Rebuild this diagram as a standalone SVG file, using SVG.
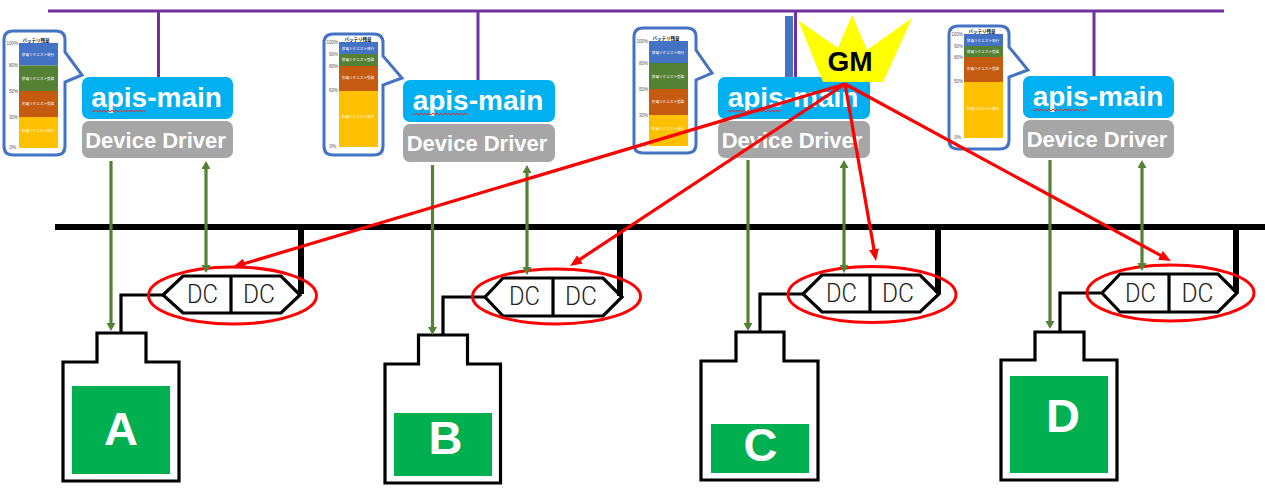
<svg xmlns="http://www.w3.org/2000/svg" width="1265" height="490" viewBox="0 0 1265 490">
<style>
text{font-family:"Liberation Sans",Arial,sans-serif}
.pur{stroke:#7030a0;stroke-width:3;fill:none}
.api{fill:#00b0f0}.dd{fill:#a6a6a6}
.t1{font-size:28px;font-weight:700;fill:#fff;text-anchor:middle}
.t2{font-size:22px;font-weight:700;fill:#fff;text-anchor:middle}
.sq{fill:none;stroke:#e03030;stroke-width:1}
.co{fill:#fff;stroke:#4472c4;stroke-width:3}
.b{fill:#4472c4}.g{fill:#548235}.o{fill:#c55a11}.y{fill:#ffc000}
.j{font-family:"Noto Sans CJK JP","Liberation Sans",sans-serif;font-size:3.6px;fill:#fff;text-anchor:middle}
.h{font-family:"Noto Sans CJK JP","Liberation Sans",sans-serif;font-size:4.5px;font-weight:700;fill:#111;text-anchor:middle}
.a{font-size:4.5px;fill:#555;text-anchor:end}
.hex{fill:#fff;stroke:#000;stroke-width:3.2;stroke-linejoin:miter}
.dc{font-family:Roboto,"Liberation Sans",sans-serif;font-weight:300;font-size:25px;fill:#222;text-anchor:middle}
.el{fill:none;stroke:#f00;stroke-width:3}
.wire{fill:none;stroke:#000;stroke-width:3.2}
.st{fill:none;stroke:#000;stroke-width:6}
.tank{fill:#fff;stroke:#000;stroke-width:3.2}
.lv{fill:#00b050}
.let{font-size:47px;font-weight:700;fill:#fff;text-anchor:middle}
.gr{stroke:#548235;stroke-width:3.2;fill:none}
.rd{stroke:#f00;stroke-width:3.2;fill:none}
</style>
<defs>
<marker id="ga" markerUnits="userSpaceOnUse" markerWidth="10" markerHeight="10" refX="4" refY="4.5" orient="auto-start-reverse"><path d="M0,0L8,4.5L0,9Z" fill="#548235"/></marker>
<marker id="ra" markerUnits="userSpaceOnUse" markerWidth="14" markerHeight="12" refX="5" refY="5" orient="auto"><path d="M0,0L12,5L0,10Z" fill="#f00"/></marker>
</defs>

<g id="bus-top">
<path class="pur" d="M48,11H1224"/>
<path class="pur" d="M158.500,11V77M478,11V80M795.500,11V77M1094,11V76"/>
<rect x="785" y="16" width="8" height="61" fill="#4472c4"/>
</g>
<g id="bus-dc"><path d="M55,227H1265" stroke="#000" stroke-width="6" fill="none"/></g>

<g id="node-1">
<rect class="api" x="82" y="77" width="151" height="42" rx="7"/>
<text class="t1" x="156.500" y="107">apis-main</text>
<path class="sq" d="M92,110l2,2l2,-2l2,2l2,-2l2,2l2,-2l2,2l2,-2l2,2l2,-2l2,2l2,-2l2,2l2,-2l2,2l2,-2l2,2l2,-2l2,2l2,-2l2,2l2,-2l2,2l2,-2l2,2l2,-2l2,2"/>
<rect class="dd" x="82" y="121" width="151" height="37" rx="7"/>
<text class="t2" x="155.500" y="148">Device Driver</text>
</g>
<g id="node-2">
<rect class="api" x="403" y="80" width="152" height="42" rx="7"/>
<text class="t1" x="478" y="110">apis-main</text>
<path class="sq" d="M413,113l2,2l2,-2l2,2l2,-2l2,2l2,-2l2,2l2,-2l2,2l2,-2l2,2l2,-2l2,2l2,-2l2,2l2,-2l2,2l2,-2l2,2l2,-2l2,2l2,-2l2,2l2,-2l2,2l2,-2l2,2"/>
<rect class="dd" x="403" y="124" width="152" height="38" rx="7"/>
<text class="t2" x="477" y="151">Device Driver</text>
</g>
<g id="node-3">
<rect class="api" x="718" y="77" width="152" height="42" rx="7"/>
<text class="t1" x="793" y="107">apis-main</text>
<path class="sq" d="M728,110l2,2l2,-2l2,2l2,-2l2,2l2,-2l2,2l2,-2l2,2l2,-2l2,2l2,-2l2,2l2,-2l2,2l2,-2l2,2l2,-2l2,2l2,-2l2,2l2,-2l2,2l2,-2l2,2l2,-2l2,2"/>
<rect class="dd" x="718" y="121" width="152" height="37" rx="7"/>
<text class="t2" x="792" y="148">Device Driver</text>
</g>
<g id="node-4">
<rect class="api" x="1023" y="76" width="151" height="42" rx="7"/>
<text class="t1" x="1098" y="106">apis-main</text>
<path class="sq" d="M1033,109l2,2l2,-2l2,2l2,-2l2,2l2,-2l2,2l2,-2l2,2l2,-2l2,2l2,-2l2,2l2,-2l2,2l2,-2l2,2l2,-2l2,2l2,-2l2,2l2,-2l2,2l2,-2l2,2l2,-2l2,2"/>
<rect class="dd" x="1023" y="120" width="151" height="38" rx="7"/>
<text class="t2" x="1097" y="147">Device Driver</text>
</g>

<g id="battery-1">
<path class="co" d="M13,31H56Q65,31 65,40V52L82,75L65,82V146Q65,155 56,155H13Q4,155 4,146V40Q4,31 13,31Z"/>
<text class="h" x="36" y="42">バッテリ残量</text>
<rect class="b" x="19" y="43" width="39" height="22.500"/><rect class="g" x="19" y="65.500" width="39" height="25.500"/><rect class="o" x="19" y="91" width="39" height="26"/><rect class="y" x="19" y="117" width="39" height="31"/>
<text class="j" x="38" y="56">放電リクエスト発行</text><text class="j" x="38" y="80">放電リクエスト受諾</text><text class="j" x="38" y="105">充電リクエスト受諾</text><text class="j" x="38" y="132">充電リクエスト発行</text>
<text class="a" x="18" y="45">100%</text><text class="a" x="18" y="67">80%</text><text class="a" x="18" y="93">50%</text><text class="a" x="18" y="119">30%</text><text class="a" x="16" y="149">0%</text>
</g>
<g id="battery-2">
<path class="co" d="M333,34H374Q383,34 383,43V56L402,78L383,85V146Q383,155 374,155H333Q324,155 324,146V43Q324,34 333,34Z"/>
<text class="h" x="358" y="41">バッテリ残量</text>
<rect class="b" x="339" y="42" width="39" height="12"/><rect class="g" x="339" y="54" width="39" height="12"/><rect class="o" x="339" y="66" width="39" height="25"/><rect class="y" x="339" y="91" width="39" height="56"/>
<text class="j" x="358" y="49.500">放電リクエスト発行</text><text class="j" x="358" y="61">放電リクエスト受諾</text><text class="j" x="358" y="79">充電リクエスト受諾</text><text class="j" x="358" y="118">充電リクエスト発行</text>
<text class="a" x="338" y="44">100%</text><text class="a" x="338" y="56">90%</text><text class="a" x="338" y="68">80%</text><text class="a" x="338" y="92">60%</text><text class="a" x="336" y="148">0%</text>
</g>
<g id="battery-3">
<path class="co" d="M643,28H687Q696,28 696,37V50L712,73L696,80V144Q696,153 687,153H643Q634,153 634,144V37Q634,28 643,28Z"/>
<text class="h" x="666" y="40">バッテリ残量</text>
<rect class="b" x="649" y="41" width="39" height="22"/><rect class="g" x="649" y="63" width="39" height="26"/><rect class="o" x="649" y="89" width="39" height="26"/><rect class="y" x="649" y="115" width="39" height="31"/>
<text class="j" x="668" y="54">放電リクエスト発行</text><text class="j" x="668" y="78">放電リクエスト受諾</text><text class="j" x="668" y="103">充電リクエスト受諾</text><text class="j" x="668" y="130">充電リクエスト発行</text>
<text class="a" x="648" y="43">100%</text><text class="a" x="648" y="65">80%</text><text class="a" x="648" y="91">50%</text><text class="a" x="648" y="117">30%</text><text class="a" x="646" y="147">0%</text>
</g>
<g id="battery-4">
<path class="co" d="M958,26H1000Q1009,26 1009,35V47L1028,70L1009,77V140Q1009,149 1000,149H958Q949,149 949,140V35Q949,26 958,26Z"/>
<text class="h" x="982" y="33">バッテリ残量</text>
<rect class="b" x="964" y="34" width="39" height="12"/><rect class="g" x="964" y="46" width="39" height="11"/><rect class="o" x="964" y="57" width="39" height="25"/><rect class="y" x="964" y="82" width="39" height="56"/>
<text class="j" x="983" y="41.500">放電リクエスト発行</text><text class="j" x="983" y="52.500">放電リクエスト受諾</text><text class="j" x="983" y="70">充電リクエスト受諾</text><text class="j" x="983" y="110">充電リクエスト発行</text>
<text class="a" x="963" y="36">100%</text><text class="a" x="963" y="48">90%</text><text class="a" x="963" y="59">80%</text><text class="a" x="963" y="83">50%</text><text class="a" x="961" y="139">0%</text>
</g>

<g id="dc-1">
<path class="wire" d="M163,295H121V333"/>
<path class="hex" d="M163,295L183,276H281L300,295L281,313H183Z"/>
<path class="st" d="M301,227V294"/>
<path class="wire" d="M231,276V313"/>
<text class="dc" x="202.500" y="303" textLength="31" lengthAdjust="spacingAndGlyphs">DC</text>
<text class="dc" x="259" y="303" textLength="32" lengthAdjust="spacingAndGlyphs">DC</text>
<ellipse class="el" cx="232.500" cy="295.500" rx="84" ry="28.500"/>
</g>
<g id="dc-2">
<path class="wire" d="M485,297H443V336"/>
<path class="hex" d="M485,297L503,278H603L622,297L603,316H503Z"/>
<path class="st" d="M620,227V296"/>
<path class="wire" d="M553,278V316"/>
<text class="dc" x="524.500" y="305" textLength="31" lengthAdjust="spacingAndGlyphs">DC</text>
<text class="dc" x="581" y="305" textLength="32" lengthAdjust="spacingAndGlyphs">DC</text>
<ellipse class="el" cx="556.500" cy="296.500" rx="84" ry="27.500"/>
</g>
<g id="dc-3">
<path class="wire" d="M803,294H760V332"/>
<path class="hex" d="M803,294L822,275H920L939,294L920,312H822Z"/>
<path class="st" d="M938,227V293"/>
<path class="wire" d="M870,275V312"/>
<text class="dc" x="841.500" y="302" textLength="31" lengthAdjust="spacingAndGlyphs">DC</text>
<text class="dc" x="898" y="302" textLength="32" lengthAdjust="spacingAndGlyphs">DC</text>
<ellipse class="el" cx="872" cy="294.500" rx="84" ry="28"/>
</g>
<g id="dc-4">
<path class="wire" d="M1102,293H1060V332"/>
<path class="hex" d="M1102,293L1120,274H1218L1237,293L1218,312H1120Z"/>
<path class="st" d="M1236,227V292"/>
<path class="wire" d="M1169,274V312"/>
<text class="dc" x="1140.500" y="302" textLength="31" lengthAdjust="spacingAndGlyphs">DC</text>
<text class="dc" x="1197.500" y="302" textLength="32" lengthAdjust="spacingAndGlyphs">DC</text>
<ellipse class="el" cx="1170.500" cy="293" rx="83.500" ry="28"/>
</g>

<g id="battery-A">
<path class="tank" d="M97,333H146V362H179V481H63V362H97Z"/>
<rect class="lv" x="72" y="386" width="98" height="88"/>
<text class="let" x="121" y="445">A</text>
</g>
<g id="battery-B">
<path class="tank" d="M418.500,335H467.500V364H500.500V483H385V364H418.500Z"/>
<rect class="lv" x="394" y="413" width="98" height="63"/>
<text class="let" x="445.500" y="454">B</text>
</g>
<g id="battery-C">
<path class="tank" d="M736,332H784V361H818V480H701V361H736Z"/>
<rect class="lv" x="711" y="424" width="98" height="49"/>
<text class="let" x="760.500" y="461">C</text>
</g>
<g id="battery-D">
<path class="tank" d="M1035,332H1084V360H1117V480H1001V360H1035Z"/>
<rect class="lv" x="1010" y="376" width="98" height="97"/>
<text class="let" x="1063" y="432">D</text>
</g>

<g id="gm">
<path d="M798,20L838,48L852,15L867,50L912,18L883,82H823Z" fill="#ff0"/>
<text x="850" y="71" font-size="28" font-weight="700" fill="#000" text-anchor="middle">GM</text>
</g>

<g id="connectors">
<path class="gr" marker-end="url(#ga)" d="M111,161V327"/>
<path class="gr" marker-start="url(#ga)" marker-end="url(#ga)" d="M206,165V269"/>
<path class="gr" marker-end="url(#ga)" d="M432.500,165V331"/>
<path class="gr" marker-start="url(#ga)" marker-end="url(#ga)" d="M527,169V271"/>
<path class="gr" marker-end="url(#ga)" d="M748,160V327"/>
<path class="gr" marker-start="url(#ga)" marker-end="url(#ga)" d="M844,164V269"/>
<path class="gr" marker-end="url(#ga)" d="M1050,160V325"/>
<path class="gr" marker-start="url(#ga)" marker-end="url(#ga)" d="M1142,164V267"/>
<path class="rd" marker-end="url(#ra)" d="M845,84L239.700,265"/>
<path class="rd" marker-end="url(#ra)" d="M845,84L575.800,262.100"/>
<path class="rd" marker-end="url(#ra)" d="M845,84L874.800,254.100"/>
<path class="rd" marker-end="url(#ra)" d="M845,84L1164.800,257.700"/>
</g>
</svg>
